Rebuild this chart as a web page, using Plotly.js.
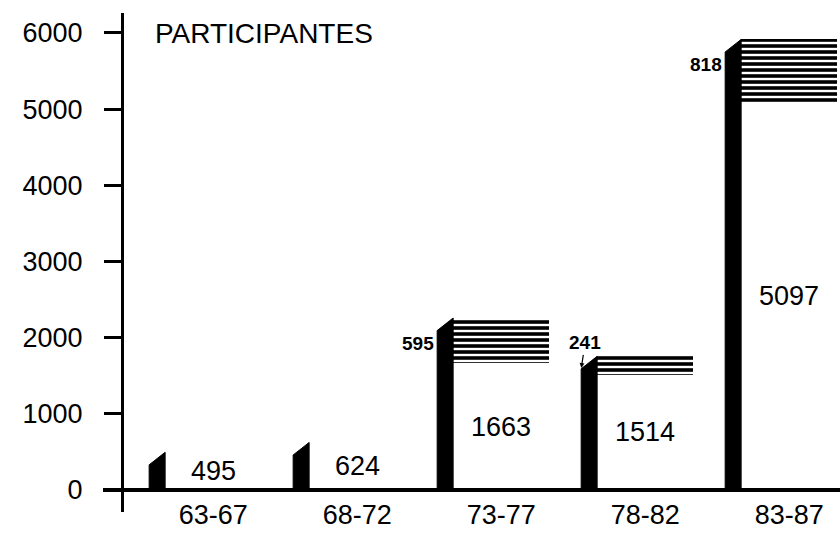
<!DOCTYPE html>
<html>
<head>
<meta charset="utf-8">
<script src="https://cdn.plot.ly/plotly-3.0.1.min.js"></script>
<style>html,body{margin:0;padding:0;background:#fff;}#chart{width:840px;height:535px;}</style>
</head>
<body>
<div id="chart"></div>
<script>
// ---- data ----
const categories = ['63-67', '68-72', '73-77', '78-82', '83-87'];
const baseValues = [495, 624, 1663, 1514, 5097];
const addedValues = [null, null, 595, 241, 818];
const yTickValues = [0, 1000, 2000, 3000, 4000, 5000, 6000];
const yTickLabels = ['0', '1000', '2000', '3000', '4000', '5000', '6000'];

// ---- style ----
const FONT = 'Liberation Sans, Arial, Helvetica, sans-serif';
const BAR_W = 0.667;     // front face width (category units)
const SIDE_W = 0.111;    // black side face width (category units)
const SLANT = 165;       // drop of the side face top (value units)
const ARROW_LABEL = [false, false, false, true, false];

const xPos = categories.map((c, i) => i);
const totals = baseValues.map((b, i) => b + (addedValues[i] || 0));

// side faces built from the data
const sideX = [], sideY = [];
xPos.forEach((x, i) => {
  const xr = x - BAR_W / 2, xl = xr - SIDE_W;
  sideX.push(xl, xl, xr, xr, xl, null);
  sideY.push(0, totals[i] - SLANT, totals[i], 0, 0, null);
});

const traces = [
  {
    type: 'bar', x: xPos, y: baseValues, width: BAR_W,
    marker: {color: 'white', line: {width: 0}},
    hoverinfo: 'skip', showlegend: false
  },
  {
    type: 'bar', x: xPos, y: addedValues, width: BAR_W,
    marker: {color: 'white', line: {width: 0},
      pattern: {shape: '-', fgcolor: 'black', bgcolor: 'white', size: 6, solidity: 0.6, fillmode: 'replace'}},
    hoverinfo: 'skip', showlegend: false
  },
  {
    type: 'scatter', mode: 'lines', x: sideX, y: sideY,
    fill: 'toself', fillcolor: 'black', line: {color: 'black', width: 1},
    hoverinfo: 'skip', showlegend: false
  }
];

const annotations = [];
xPos.forEach((x, i) => {
  annotations.push({
    x: x, y: baseValues[i] / 2, xref: 'x', yref: 'y',
    text: String(baseValues[i]), showarrow: false,
    font: {family: FONT, size: 27, color: 'black'}
  });
  if (addedValues[i] != null) {
    const xl = x - BAR_W / 2 - SIDE_W;
    if (ARROW_LABEL[i]) {
      annotations.push({
        x: xl, y: totals[i] - SLANT, xref: 'x', yref: 'y',
        text: '<b>' + addedValues[i] + '</b>', showarrow: true,
        ax: 4, ay: -26, arrowhead: 2, arrowsize: 0.8, arrowwidth: 1.2, arrowcolor: 'black', standoff: 1,
        font: {family: FONT, size: 19, color: 'black'}
      });
    } else {
      annotations.push({
        x: xl, y: totals[i] - SLANT, xref: 'x', yref: 'y',
        xanchor: 'right', yanchor: 'top', xshift: -1,
        text: '<b>' + addedValues[i] + '</b>', showarrow: false,
        font: {family: FONT, size: 19, color: 'black'}
      });
    }
  }
});

const layout = {
  width: 840, height: 535,
  margin: {l: 103, r: 0, t: 13, b: 23, pad: 0},
  paper_bgcolor: 'white', plot_bgcolor: 'white',
  font: {family: FONT, color: 'black'},
  barmode: 'stack', bargap: 0,
  showlegend: false,
  title: {
    text: 'PARTICIPANTES', font: {family: FONT, size: 28, color: 'black'},
    xref: 'container', yref: 'container', x: 155 / 840, xanchor: 'left',
    y: 1 - 33 / 535, yanchor: 'middle', pad: {t: 0, b: 0, l: 0, r: 0}
  },
  xaxis: {
    range: [-0.765, 4.353], domain: [0, 1],
    anchor: 'free', position: 0.0441,
    tickmode: 'array', tickvals: xPos, ticktext: categories,
    ticks: '', showgrid: false, zeroline: false,
    showline: true, linecolor: 'black', linewidth: 4, layer: 'above traces',
    tickfont: {family: FONT, size: 27, color: 'black'},
    ticklabelstandoff: 0, fixedrange: true
  },
  yaxis: {
    range: [-289, 6262], domain: [0, 1],
    anchor: 'free', position: 0.02578,
    tickmode: 'array', tickvals: yTickValues, ticktext: yTickLabels,
    ticks: 'outside', ticklen: 17, tickwidth: 3, tickcolor: 'black',
    showgrid: false, zeroline: false,
    showline: true, linecolor: 'black', linewidth: 3, layer: 'above traces',
    tickfont: {family: FONT, size: 27, color: 'black'},
    ticklabelstandoff: 16, fixedrange: true
  },
  annotations: annotations
};

Plotly.newPlot('chart', traces, layout, {staticPlot: true, displayModeBar: false});
</script>
</body>
</html>
